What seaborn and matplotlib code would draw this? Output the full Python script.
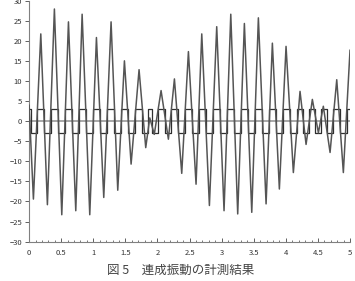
import matplotlib
matplotlib.use("Agg")
import matplotlib.pyplot as plt
import seaborn as sns
import pandas as pd
from matplotlib.ticker import MultipleLocator

# Extremum times (s) and displacement values
times = [0.0, 0.067, 0.182, 0.285, 0.394, 0.509, 0.613, 0.727, 0.826, 0.945,
         1.049, 1.163, 1.277, 1.381, 1.485, 1.589, 1.713, 1.817, 1.88, 1.95,
         2.056, 2.17, 2.264, 2.378, 2.482, 2.601, 2.69, 2.809, 2.923, 3.037,
         3.142, 3.25, 3.354, 3.469, 3.572, 3.692, 3.79, 3.899, 4.003, 4.117,
         4.221, 4.315, 4.413, 4.507, 4.584, 4.689, 4.793, 4.896, 5.0]
displacement = [4, -19.4, 21.7, -20.8, 27.9, -23.3, 24.7, -22.3, 26.6, -23.3,
                20.8, -19.0, 24.7, -17.2, 15.0, -10.7, 12.8, -6.6, 0.8, -3.3,
                7.6, -4.5, 10.5, -13.0, 17.3, -15.7, 21.7, -21.0, 23.5, -22.3,
                26.6, -23.1, 24.3, -22.7, 25.7, -20.6, 19.4, -16.9, 18.6, -12.8,
                7.4, -5.8, 5.4, -2.9, 3.7, -7.8, 10.3, -12.8, 17.7]
# Level of the square-wave signal around each extremum
square_level = [3, -3, 3, -3, 3, -3, 3, -3, 3, -3,
                3, -3, 3, -3, 3, -3, 3, -3, 3, -3,
                3, -3, 3, -3, 3, -3, 3, -3, 3, -3,
                3, -3, 3, -3, 3, -3, 3, -3, 3, -3,
                3, -3, 3, -3, 3, -3, 3, -3, 3]

x_ticks = [0, 0.5, 1, 1.5, 2, 2.5, 3, 3.5, 4, 4.5, 5]
x_labels = ["0", "0.5", "1", "1.5", "2", "2.5", "3", "3.5", "4", "4.5", "5"]
y_ticks = [-30, -25, -20, -15, -10, -5, 0, 5, 10, 15, 20, 25, 30]
title = "図 5　連成振動の計測結果"

df = pd.DataFrame({"t": times, "x": displacement, "s": square_level})

sns.set_style("ticks")
plt.rcParams["font.family"] = ["Noto Sans CJK JP", "DejaVu Sans"]

fig = plt.figure(figsize=(3.55, 2.81), dpi=100)
ax = fig.add_axes([0.082, 0.140, 0.904, 0.858])

ax.axhline(0, color="#9a9a9a", lw=1.2, zorder=1)
sns.lineplot(data=df, x="t", y="s", ax=ax, color="#2e2e2e", lw=0.9,
             drawstyle="steps-mid", estimator=None, sort=False, zorder=2)
sns.lineplot(data=df, x="t", y="x", ax=ax, color="#555555", lw=1.1,
             estimator=None, sort=False, zorder=3)

ax.set_xlim(0, 5)
ax.set_ylim(-30, 30)
ax.set_xticks(x_ticks)
ax.set_xticklabels(x_labels)
ax.set_yticks(y_ticks)
ax.xaxis.set_minor_locator(MultipleLocator(0.1))
ax.set_xlabel("")
ax.set_ylabel("")

for side in ["top", "right"]:
    ax.spines[side].set_visible(False)
for side in ["left", "bottom"]:
    ax.spines[side].set_color("#808080")
    ax.spines[side].set_linewidth(0.8)

ax.tick_params(axis="x", which="major", direction="in", length=3, width=0.7,
               color="#606060", labelsize=5.5, labelcolor="#333333", pad=5)
ax.tick_params(axis="x", which="minor", direction="in", length=1.8, width=0.6,
               color="#606060")
ax.tick_params(axis="y", which="major", direction="out", length=3, width=0.7,
               color="#606060", labelsize=5.5, labelcolor="#333333", pad=2)

fig.text(0.51, 0.038, title, ha="center", va="center", fontsize=9,
         color="#444444")

fig.savefig("out.png", dpi=100)
